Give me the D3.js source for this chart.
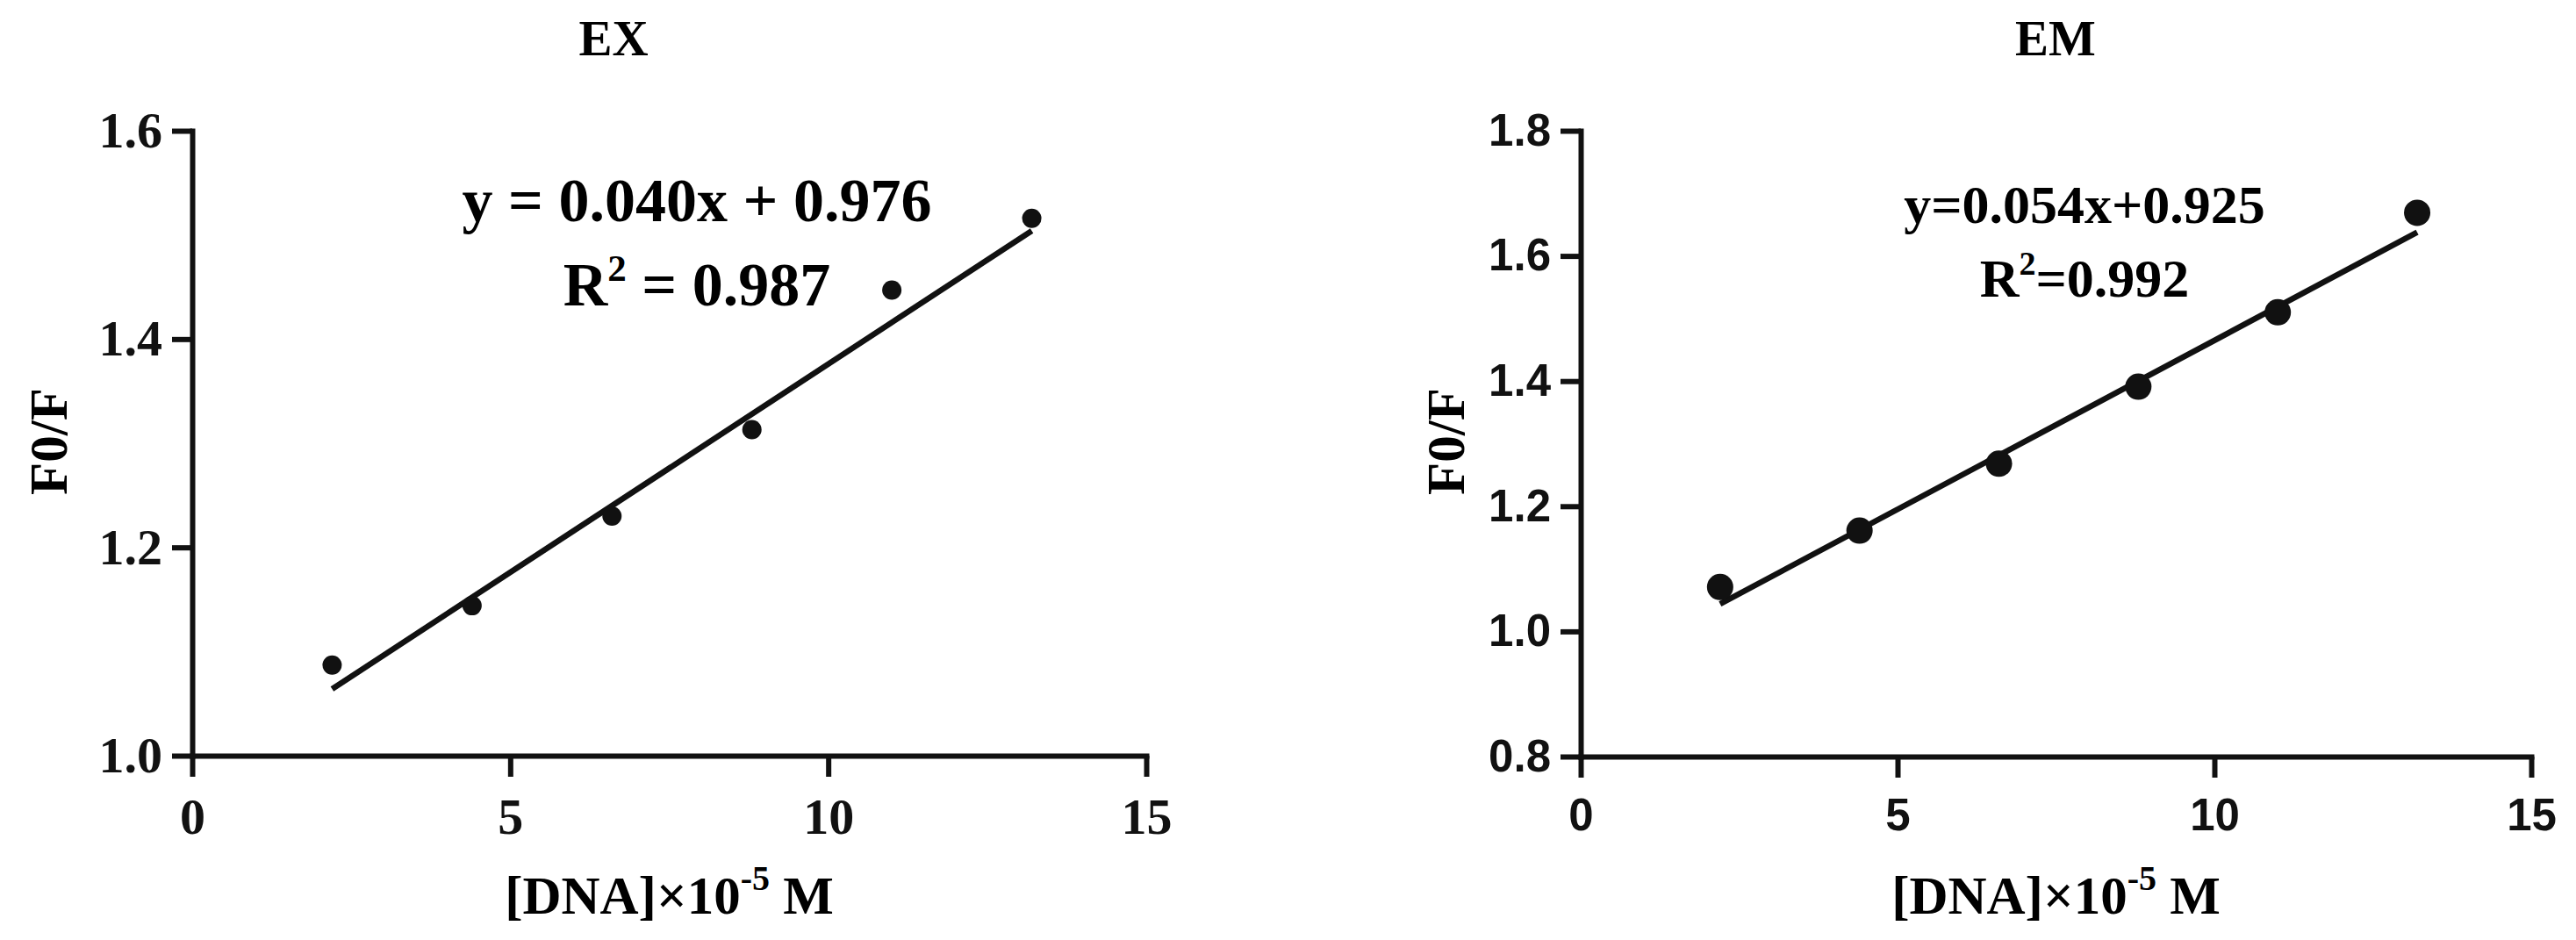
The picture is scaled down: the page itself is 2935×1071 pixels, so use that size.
<!DOCTYPE html>
<head>
<meta charset="utf-8">
<style>
body { margin: 0; background: #fff; }
svg { display: block; }
.axis path, .axis line { stroke: #111; stroke-width: 6px; }
.axis text { fill: #111; font-weight: bold; }
.serif text, text.serif { font-family: "Liberation Serif", "Times New Roman", serif; font-weight: bold; }
.sans text { font-family: "Liberation Sans", Arial, sans-serif; }
.fit { fill: none; stroke: #111; stroke-width: 6.5px; stroke-linecap: butt; }
.dot { fill: #111; }
</style>
<script src="https://cdn.jsdelivr.net/npm/d3@7"></script>
</head>
<body>
<svg width="2935" height="1071"></svg>
<script>

// data
var dnaConc = [2.2, 4.4, 6.6, 8.8, 11.0, 13.2];
var exRatio = [1.087, 1.144, 1.230, 1.313, 1.447, 1.516];
var emRatio = [1.071, 1.161, 1.268, 1.391, 1.510, 1.669];

// printed fit lines: y = slope*x + intercept, drawn over the data range
var exFit = [0.040, 0.976];
var emFit = [0.054, 0.925];

var xTicks = [0, 5, 10, 15];
var exYTicks = [1.0, 1.2, 1.4, 1.6];
var emYTicks = [0.8, 1.0, 1.2, 1.4, 1.6, 1.8];

var svg = d3.select("svg");

function panel(o) {
  var x = d3.scaleLinear().domain([0, 15]).range([o.left, o.right]);
  var y = d3.scaleLinear().domain(o.yDomain).range([o.bottom, o.top]);
  var g = svg.append("g");

  // axes
  g.append("g")
      .attr("class", "axis " + o.tickFont)
      .attr("transform", "translate(0," + o.bottom + ")")
      .call(d3.axisBottom(x).tickValues(xTicks).tickSize(24).tickSizeOuter(0).tickPadding(o.xPad))
      .selectAll("text").style("font-size", o.tickSize + "px");

  g.append("g")
      .attr("class", "axis " + o.tickFont)
      .attr("transform", "translate(" + o.left + ",0)")
      .call(d3.axisLeft(y).tickValues(o.yTicks).tickSize(23).tickSizeOuter(0).tickPadding(11)
        .tickFormat(d3.format(".1f")))
      .selectAll("text").style("font-size", o.tickSize + "px");

  g.selectAll(".axis path").attr("stroke-linecap", "square");

  // fit line
  var x0 = d3.min(o.xs), x1 = d3.max(o.xs);
  var line = d3.line().x(function(d) { return x(d[0]); }).y(function(d) { return y(d[1]); });
  g.append("path")
      .attr("class", "fit")
      .attr("d", line([[x0, o.fit[0] * x0 + o.fit[1]], [x1, o.fit[0] * x1 + o.fit[1]]]));

  // points
  g.selectAll(".dot")
    .data(o.xs.map(function(v, i) { return [v, o.ys[i]]; }))
    .enter().append("circle")
      .attr("class", "dot")
      .attr("cx", function(d) { return x(d[0]); })
      .attr("cy", function(d) { return y(d[1]); })
      .attr("r", o.r);

  // title
  g.append("text").attr("class", "serif")
      .attr("x", o.titleX).attr("y", 63)
      .attr("text-anchor", "middle")
      .style("font-size", "57px")
      .text(o.title);

  // y label
  g.append("text").attr("class", "serif")
      .attr("transform", "translate(" + o.yLabelX + ",503) rotate(-90)")
      .attr("text-anchor", "middle")
      .style("font-size", "61px")
      .text("F0/F");

  // x label, superscript shifted in px so the baseline comes back exactly
  var xl = g.append("text").attr("class", "serif")
      .attr("x", (o.left + o.right) / 2).attr("y", 1041)
      .attr("text-anchor", "middle")
      .style("font-size", "61px");
  xl.append("tspan").text("[DNA]\u00d710");
  xl.append("tspan").attr("dy", -27).style("font-size", "40px").text("-5");
  xl.append("tspan").attr("dy", 27).text(" M");

  // equation
  var eq = o.eq, up = Math.round(eq.size * 0.4);
  g.append("text").attr("class", "serif")
      .attr("x", eq.x).attr("y", eq.y1)
      .attr("text-anchor", "middle")
      .style("font-size", eq.size + "px")
      .text(eq.line1);
  var r2 = g.append("text").attr("class", "serif")
      .attr("x", eq.x).attr("y", eq.y2)
      .attr("text-anchor", "middle")
      .style("font-size", eq.size + "px");
  r2.append("tspan").text("R");
  r2.append("tspan").attr("dy", -up).style("font-size", Math.round(eq.size * 0.62) + "px").text("2");
  r2.append("tspan").attr("dy", up).text(eq.line2);
}

panel({
  left: 219, right: 1306, top: 149, bottom: 861,
  yDomain: [1.0, 1.6], yTicks: exYTicks,
  xs: dnaConc, ys: exRatio, fit: exFit, r: 11,
  tickFont: "serif", tickSize: 58, xPad: 24,
  title: "EX", titleX: 699, yLabelX: 76,
  eq: { x: 794, y1: 252, y2: 348, size: 70, line1: "y = 0.040x + 0.976", line2: " = 0.987" }
});

panel({
  left: 1801, right: 2884, top: 149, bottom: 862,
  yDomain: [0.8, 1.8], yTicks: emYTicks,
  xs: dnaConc, ys: emRatio, fit: emFit, r: 15,
  tickFont: "sans", tickSize: 51, xPad: 24,
  title: "EM", titleX: 2342, yLabelX: 1668,
  eq: { x: 2375, y1: 254, y2: 338, size: 62, line1: "y=0.054x+0.925", line2: "=0.992" }
});

</script>
</body>
</html>
